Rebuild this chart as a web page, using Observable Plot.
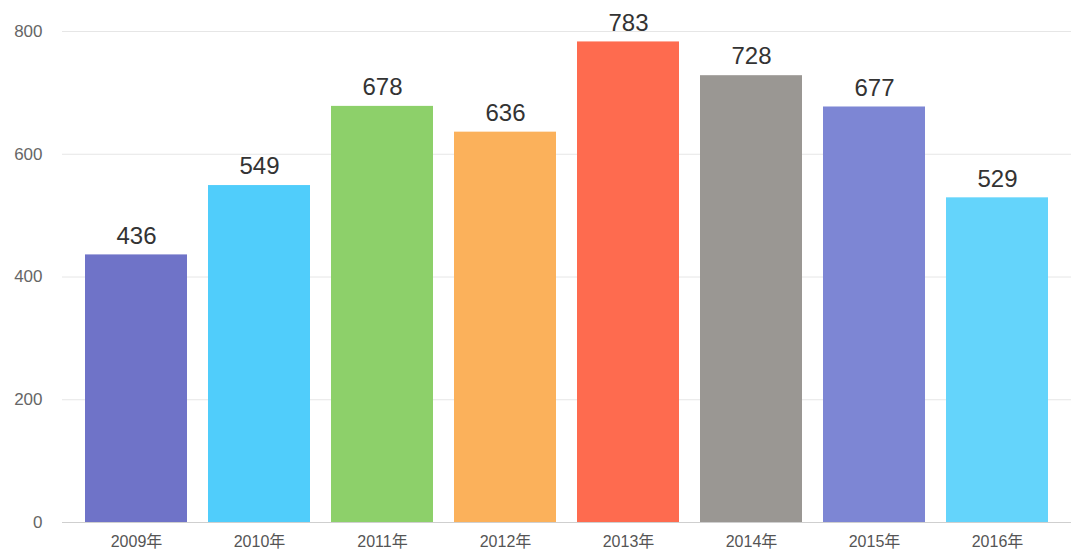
<!DOCTYPE html>
<html>
<head>
<meta charset="utf-8">
<script src="https://cdn.jsdelivr.net/npm/d3@7"></script>
<script src="https://cdn.jsdelivr.net/npm/@observablehq/plot@0.6"></script>
<style>
  html, body { margin: 0; padding: 0; background: #fff; }
  #chart svg { display: block; }
</style>
</head>
<body>
<div id="chart"></div>
<script>
const years = ["2009年", "2010年", "2011年", "2012年", "2013年", "2014年", "2015年", "2016年"];
const values = [436, 549, 678, 636, 783, 728, 677, 529];
const colors = ["#6f73c8", "#50cdfb", "#8dd06a", "#fbb15b", "#fe6b4f", "#9a9793", "#7d86d4", "#64d4fb"];
const yTicks = [0, 200, 400, 600, 800];

const data = years.map((y, i) => ({year: y, value: values[i]}));

const chart = Plot.plot({
  width: 1072,
  height: 552,
  marginLeft: 62,
  marginRight: 1,
  marginTop: 31,
  marginBottom: 30,
  style: {fontFamily: "'Liberation Sans', 'Noto Sans CJK SC', sans-serif", background: "#fff"},
  x: {domain: years, padding: 0.173, label: null},
  y: {domain: [0, 800], label: null},
  color: {domain: years, range: colors},
  marks: [
    Plot.gridY(yTicks, {stroke: "#e6e6e6", strokeOpacity: 1}),
    Plot.barY(data, {x: "year", y: "value", fill: "year"}),
    Plot.ruleY([0], {stroke: "#cfcfcf"}),
    Plot.text(data, {x: "year", y: "value", text: d => String(d.value), dy: -19, fontSize: 24, fill: "#333"}),
    Plot.axisY(yTicks, {tickSize: 0, tickPadding: 20, fontSize: 17, fill: "#666", label: null}),
    Plot.axisX({tickSize: 0, tickPadding: 13, fontSize: 16, fill: "#555", label: null})
  ]
});
document.getElementById("chart").append(chart);
</script>
</body>
</html>
